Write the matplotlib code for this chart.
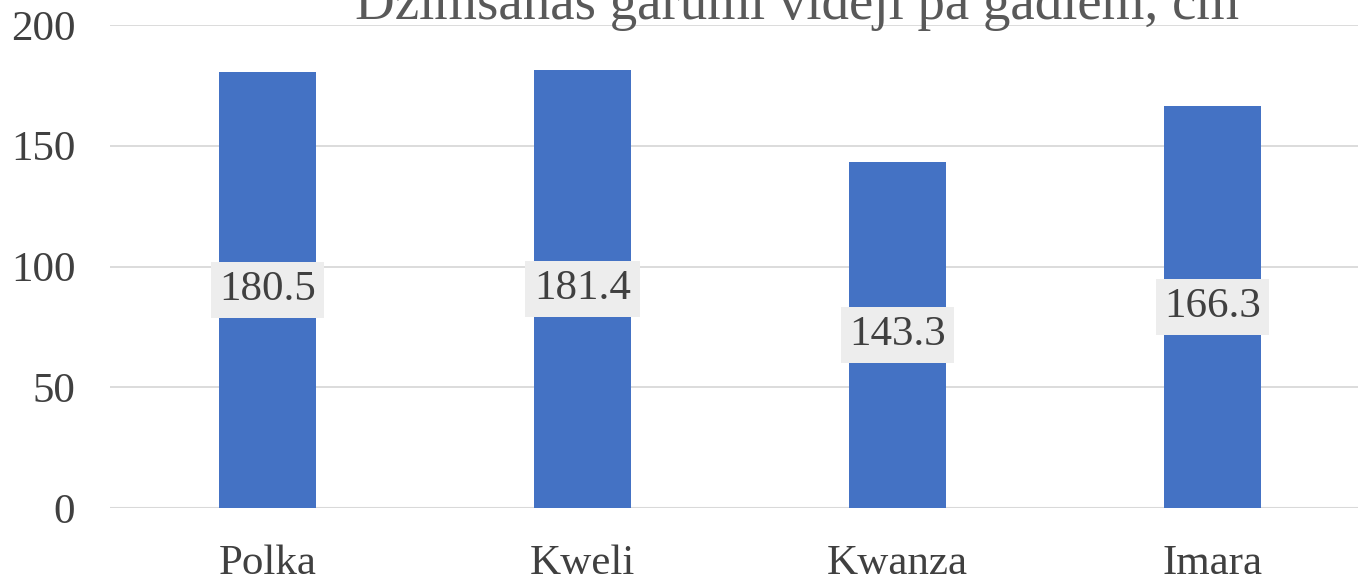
import matplotlib
matplotlib.use("Agg")
from matplotlib import pyplot as plt

categories = ['Polka', 'Kweli', 'Kwanza', 'Imara']
values = [180.5, 181.4, 143.3, 166.3]
yticks = [0, 50, 100, 150, 200]
title = 'Dzimšanas garumi vidēji pa gadiem, cm'

plt.rcParams['font.family'] = ['Liberation Serif', 'DejaVu Serif']

fig = plt.figure(figsize=(13.58, 5.78), dpi=100)
ax = fig.add_axes([110/1358, 1-508/578, 1260/1358, 483/578])

x = range(len(categories))
bars = ax.bar(x, values, width=0.31, color='#4472C4', zorder=3)

ax.set_xlim(-0.5, 3.5)
ax.set_ylim(0, 200)
ax.set_yticks(yticks)
ax.set_xticks(list(x))
ax.set_xticklabels(categories)
ax.grid(axis='y', color='#D9D9D9', linewidth=1.3, zorder=0)
for s in ax.spines.values():
	s.set_visible(False)
ax.axhline(0, color='#D9D9D9', linewidth=1.5, zorder=1)
ax.tick_params(axis='both', length=0, labelsize=31, colors='#404040')
ax.tick_params(axis='y', pad=25)
ax.tick_params(axis='x', pad=26)

#labels in the middle of each bar
for b, v in zip(bars, values):
	ax.text(b.get_x()+b.get_width()/2, v/2, '%.1f' % v, ha='center', va='center',
		fontsize=31, color='#404040', zorder=4,
		bbox=dict(boxstyle='square,pad=0.2', fc='#EDEDED', ec='none'))

fig.text(797/1358, 1-19/578, title, ha='center', va='baseline', fontsize=39.5, color='#595959')

fig.savefig('out.png', dpi=100)
